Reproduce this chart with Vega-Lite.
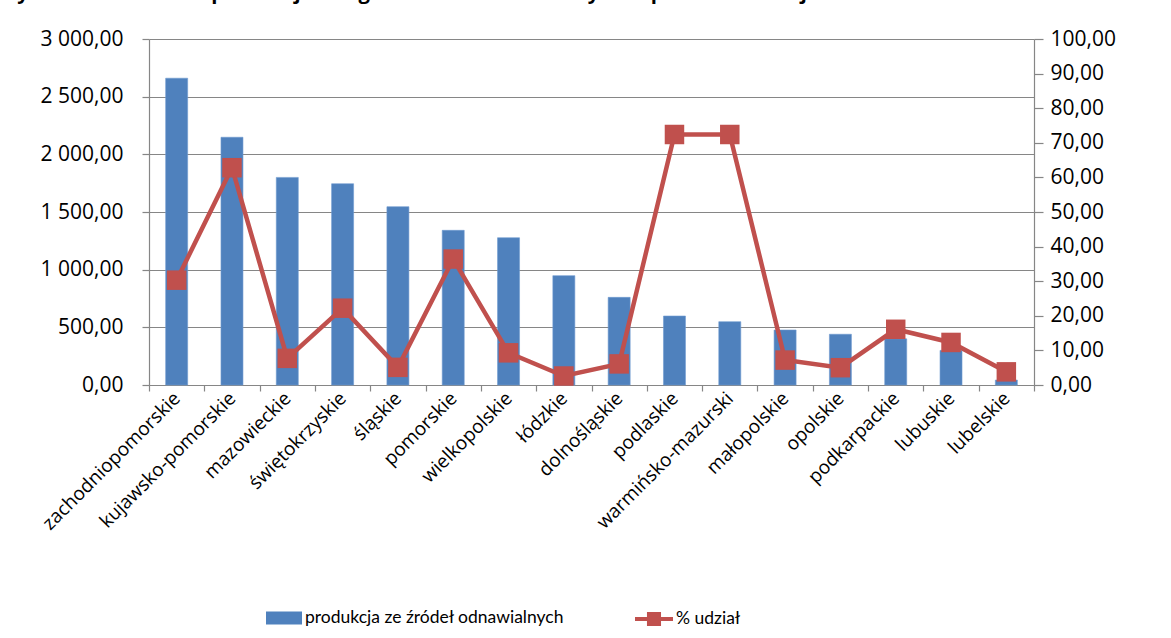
{
  "$schema": "https://vega.github.io/schema/vega-lite/v6.json",
  "width": 885,
  "height": 346,
  "autosize": "none",
  "padding": {"left": 149, "top": 39, "right": 137, "bottom": 253},
  "title": {
    "text": "Rysunek 20 Wartość produkcji energii ze źródeł odnawialnych w podziale na województwa w 2013 roku",
    "anchor": "start",
    "frame": "group",
    "dx": -145,
    "offset": 25,
    "limit": 3000,
    "fontSize": 20.2,
    "fontWeight": "bold",
    "font": "Open Sans",
    "color": "#000000"
  },
  "config": {
    "locale": {"number": {"decimal": ",", "thousands": " ", "grouping": [3], "currency": ["", ""]}},
    "font": "Open Sans",
    "view": {"stroke": null},
    "axis": {"labelFont": "Open Sans", "labelColor": "#000000", "labelFontSize": 19, "domainColor": "#868686", "tickColor": "#868686", "gridColor": "#868686", "domainWidth": 1.2, "tickWidth": 1.2, "gridWidth": 1.2, "gridOpacity": 1, "title": null}
  },
  "data": {
    "values": [
      {"region": "zachodniopomorskie", "produkcja": 2660, "udzial": 30.3},
      {"region": "kujawsko-pomorskie", "produkcja": 2148, "udzial": 62.8},
      {"region": "mazowieckie", "produkcja": 1800, "udzial": 7.7},
      {"region": "świętokrzyskie", "produkcja": 1745, "udzial": 22.2},
      {"region": "śląskie", "produkcja": 1546, "udzial": 5.1},
      {"region": "pomorskie", "produkcja": 1341, "udzial": 36.4},
      {"region": "wielkopolskie", "produkcja": 1277, "udzial": 9.3},
      {"region": "łódzkie", "produkcja": 948, "udzial": 2.6},
      {"region": "dolnośląskie", "produkcja": 760, "udzial": 6.1},
      {"region": "podlaskie", "produkcja": 598, "udzial": 72.4},
      {"region": "warmińsko-mazurski", "produkcja": 549, "udzial": 72.4},
      {"region": "małopolskie", "produkcja": 477, "udzial": 7.2},
      {"region": "opolskie", "produkcja": 440, "udzial": 5.0},
      {"region": "podkarpackie", "produkcja": 400, "udzial": 16.1},
      {"region": "lubuskie", "produkcja": 300, "udzial": 12.3},
      {"region": "lubelskie", "produkcja": 43, "udzial": 3.8}
    ]
  },
  "encoding": {
    "x": {
      "field": "region",
      "type": "nominal",
      "sort": null,
      "scale": {"paddingInner": 0, "paddingOuter": 0},
      "axis": {"labelAngle": -45, "labelAlign": "right", "labelBaseline": "middle", "tickBand": "extent", "tickSize": 6, "labelPadding": 4, "labelOverlap": false, "labelLimit": 300}
    }
  },
  "layer": [
    {
      "mark": {"type": "bar", "size": 22, "stroke": "#6F9AD0", "strokeWidth": 0.6},
      "encoding": {
        "y": {
          "field": "produkcja",
          "type": "quantitative",
          "scale": {"domain": [0, 3000], "nice": false},
          "axis": {"values": [0, 500, 1000, 1500, 2000, 2500, 3000], "format": ",.2f", "grid": true, "tickSize": 7, "labelPadding": 19, "orient": "left", "labelFontSize": 21}
        },
        "color": {
          "datum": "produkcja ze źródeł odnawialnych",
          "scale": {"range": ["#4F81BD"]},
          "legend": {
            "title": null,
            "orient": "none",
            "legendX": 117,
            "legendY": 561,
            "symbolType": "M-1,-0.36H1V0.36H-1Z",
            "symbolSize": 1296,
            "symbolStrokeWidth": 0,
            "labelFontSize": 17.5,
            "labelFont": "Lato",
            "labelColor": "#000000",
            "labelOffset": 3,
            "labelLimit": 500
          }
        }
      }
    },
    {
      "encoding": {
        "y": {
          "field": "udzial",
          "type": "quantitative",
          "scale": {"domain": [0, 100], "nice": false},
          "axis": {"orient": "right", "values": [0, 10, 20, 30, 40, 50, 60, 70, 80, 90, 100], "format": ",.2f", "grid": false, "tickSize": 9, "labelPadding": 7, "labelFontSize": 21}
        }
      },
      "layer": [
        {
          "mark": {"type": "line", "strokeWidth": 4.5},
          "encoding": {
            "stroke": {
              "datum": "% udział",
              "scale": {"range": ["#C0504D"]},
              "legend": {
                "title": null,
                "orient": "none",
                "legendX": 486,
                "legendY": 561,
                "symbolType": "M-1,-0.1H-0.37V-0.37H0.37V-0.1H1V0.1H0.37V0.37H-0.37V0.1H-1Z",
                "symbolSize": 1444,
                "symbolFillColor": "#C0504D",
                "symbolStrokeWidth": 0,
                "labelFontSize": 17.5,
                "labelFont": "Lato",
                "labelColor": "#000000",
                "labelOffset": 3,
                "labelLimit": 500
              }
            }
          }
        },
        {
          "mark": {"type": "point", "shape": "square", "size": 380, "filled": true, "color": "#C0504D", "opacity": 1},
          "encoding": {}
        }
      ]
    }
  ],
  "resolve": {"scale": {"y": "independent", "color": "independent"}}
}
